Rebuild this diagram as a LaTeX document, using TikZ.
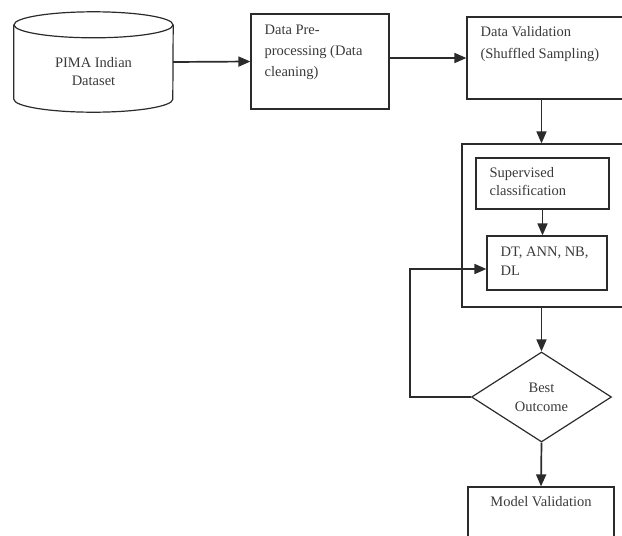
\documentclass[tikz,border=0pt]{standalone}
\usepackage{fontspec}
\setmainfont{Liberation Serif}
\usetikzlibrary{arrows.meta,positioning,shapes.geometric}

\definecolor{linegray}{HTML}{2B2B2B}
\definecolor{textgray}{HTML}{3A3A3A}

\tikzset{
  line/.style={draw=linegray, line width=1.2pt},
  arrow/.style={line, line width=1.7pt, -{Triangle[length=12pt,width=10pt]}},
  box/.style={line, rectangle, inner sep=0},
  txt/.style={inner sep=0, align=left, text=textgray, font=\fontsize{14.5pt}{#1}\selectfont},
  txt/.default=21pt,
  decision/.style={line, diamond, aspect=1.55, minimum width=140, minimum height=90,
    inner sep=0, align=center, text=textgray, font=\fontsize{14.5pt}{19pt}\selectfont}
}

\begin{document}
\begin{tikzpicture}[x=1pt,y=-1pt]
  \clip (0,0) rectangle (622,536);

  % dataset cylinder
  \node (pima) at (93.5,62) [minimum width=159, minimum height=74, inner sep=0] {};
  \draw[line] (pima.north west) -- (pima.south west)
    arc[start angle=180, end angle=0, x radius=79.5, y radius=13] -- (pima.north east);
  \draw[line] (pima.north) ellipse [x radius=79.5, y radius=13];
  \node[txt=18pt, align=center] (pimatext) at (93.5,72) {PIMA Indian\\Dataset};

  % top row
  \node[box, minimum width=138, minimum height=95] (pre) at (320,61.5) {};
  \node[txt, below right=11pt and 14pt of pre.north west] (pretext) {Data Pre-\\processing (Data\\cleaning)};

  \node[box, minimum width=173, minimum height=82] (dv) at (553.5,58) {};
  \node[txt=22pt, below right=10pt and 14pt of dv.north west] (dvtext) {Data Validation\\(Shuffled Sampling)};

  % classification block
  \node[box, minimum width=178, minimum height=163] (clsbox) at (551,225.5) {};
  \node[box, minimum width=133, minimum height=51] (sup) at (542.5,183.5) {};
  \node[txt=18pt, below right=10pt and 14pt of sup.north west] (suptext) {Supervised\\classification};
  \node[box, minimum width=120, minimum height=54] (dt) at (547,263) {};
  \node[txt=19pt, below right=11pt and 14pt of dt.north west] (dttext) {DT, ANN, NB,\\DL};

  % decision and result
  \node[decision] (best) at (541.5,397) {Best\\Outcome};
  \node[box, minimum width=146, minimum height=93] (model) at (541,533.5) {};
  \node[txt, below=10pt of model.north] (modeltext) {Model Validation};
  \coordinate (back) at (410,269);

  % connectors
  \draw[arrow] (pima.east) -- (pre.west);
  \draw[arrow] (pre.east |- dv.west) -- (dv.west);
  \draw[arrow] (dv.south -| best) -- (clsbox.north -| best);
  \draw[arrow] (sup.south) -- (sup.south |- dt.north);
  \draw[arrow] (clsbox.south -| best) -- (best.north);
  \draw[arrow] (best.south) -- (model.north);
  \draw[arrow] (best.west) -| (back) -- (back -| dt.west);
\end{tikzpicture}
\end{document}
